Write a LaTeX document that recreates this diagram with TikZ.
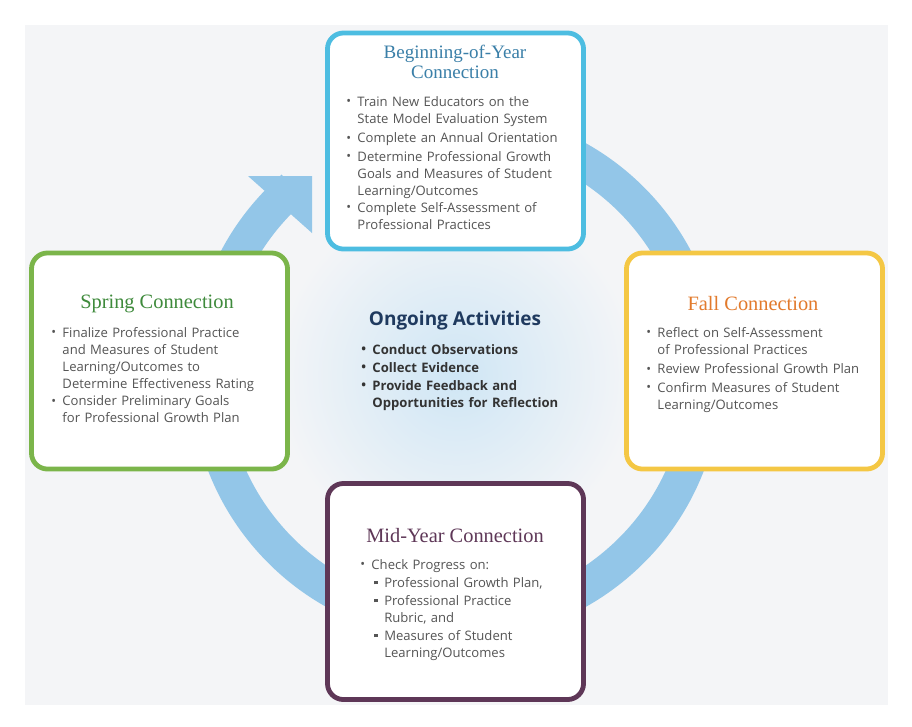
\documentclass[tikz,border=0pt]{standalone}
\usepackage{fontspec}
\setmainfont{Open Sans}
\newfontfamily\titlefont{Liberation Serif}
\usetikzlibrary{positioning}
\definecolor{ringblue}{HTML}{93C6E8}
\definecolor{topcol}{HTML}{4DBDE1}
\definecolor{toptxt}{HTML}{3A7FA8}
\definecolor{springcol}{HTML}{7BB54A}
\definecolor{springtxt}{HTML}{3E8A3B}
\definecolor{fallcol}{HTML}{F4C744}
\definecolor{falltxt}{HTML}{E27A2C}
\definecolor{midcol}{HTML}{5E3757}
\definecolor{bodytxt}{HTML}{555555}
\definecolor{navy}{HTML}{1F3A5F}
\definecolor{bggray}{HTML}{F4F5F7}
\definecolor{glow}{HTML}{CFE6F5}
\newcommand\bul[2]{\par\noindent\makebox[0.28cm][l]{\raisebox{0.1ex}{\small\textbullet}}\parbox[t]{#1}{#2\strut}\par\vspace{0.8pt}}
\newcommand\sqb[2]{\par\noindent\hspace*{0.35cm}\makebox[0.25cm][l]{\raisebox{0.45ex}{\rule{2.4pt}{2.4pt}}}\parbox[t]{#1}{#2\strut}\par\vspace{0.8pt}}
\begin{document}
\begin{tikzpicture}[x=0.025cm,y=-0.025cm,
    phase/.style={draw,line width=0.12cm,rounded corners=0.4cm,fill=white,minimum width=6.4cm,minimum height=5.4cm},
    heading/.style={font=\titlefont\fontsize{13.5}{16}\selectfont,align=center},
    points/.style={anchor=north west,inner sep=0pt,text=bodytxt,font=\fontsize{9.3}{12.1}\selectfont,text width=6cm,align=left}
  ]
    % canvas
    \fill[white] (0,0) rectangle (912,726);
    \fill[bggray] (25,25) rectangle (888,705);
    \shade[inner color=glow,outer color=bggray] (456,375) circle (4.5cm);
    \useasboundingbox (0,0) rectangle (912,726);

    % cycle ring
    \coordinate (hub) at (456,375);
    \draw[ringblue,line width=0.88cm] ([shift={(131:6.2cm)}]hub) arc[start angle=131,end angle=460,radius=6.2cm];
    \fill[ringblue] (248,176) -- (312,176) -- (312,233) -- cycle;

    % phase boxes
    \node[phase,draw=topcol] (boy) at (455.5,141) {};
    \node[phase,draw=springcol] (spring) at (159.5,361) {};
    \node[phase,draw=fallcol] (fall) at (754.5,361) {};
    \node[phase,draw=midcol] (mid) at (455.5,591.5) {};

    % Beginning-of-Year
    \node[heading,text=toptxt] at (455,62) {Beginning-of-Year\\[-2pt]Connection};
    \node[points] at (346,89) {%
      \bul{5.6cm}{Train New Educators on the\\State Model Evaluation System}
      \bul{5.6cm}{Complete an Annual Orientation}
      \bul{5.6cm}{Determine Professional Growth\\Goals and Measures of Student\\Learning/Outcomes}
      \bul{5.6cm}{Complete Self-Assessment of\\Professional Practices}};

    % Spring
    \node[heading,text=springtxt,font=\titlefont\fontsize{14.5}{16}\selectfont] at (157,304) {Spring Connection};
    \node[points] at (51,320) {%
      \bul{5.6cm}{Finalize Professional Practice\\and Measures of Student\\Learning/Outcomes to\\Determine Effectiveness Rating}
      \bul{5.6cm}{Consider Preliminary Goals\\for Professional Growth Plan}};

    % Fall
    \node[heading,text=falltxt,font=\titlefont\fontsize{14.5}{16}\selectfont] at (753,304) {Fall Connection};
    \node[points] at (646,320) {%
      \bul{5.6cm}{Reflect on Self-Assessment\\of Professional Practices}
      \bul{5.6cm}{Review Professional Growth Plan}
      \bul{5.6cm}{Confirm Measures of Student\\Learning/Outcomes}};

    % Mid-Year
    \node[heading,text=midcol,font=\titlefont\fontsize{14.5}{16}\selectfont] at (455,536) {Mid-Year Connection};
    \node[points] at (360,552) {%
      \bul{5.6cm}{Check Progress on:}
      \sqb{5cm}{Professional Growth Plan,}
      \sqb{5cm}{Professional Practice\\Rubric, and}
      \sqb{5cm}{Measures of Student\\Learning/Outcomes}};

    % Ongoing
    \node[font=\fontsize{13.5}{16}\selectfont\bfseries,text=navy] (ongoing) at (455,321) {Ongoing Activities};
    \node[points,text=black!80,font=\fontsize{9.3}{12.1}\selectfont\bfseries] at (361,337) {%
      \bul{5cm}{Conduct Observations}
      \bul{5cm}{Collect Evidence}
      \bul{5cm}{Provide Feedback and\\Opportunities for Reflection}};
  \end{tikzpicture}
\end{document}
